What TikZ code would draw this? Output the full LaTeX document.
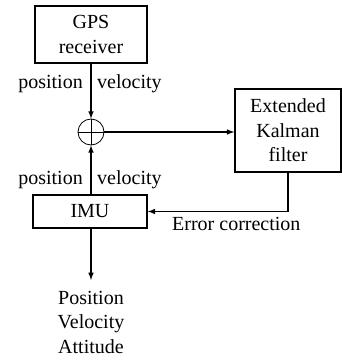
\documentclass[tikz,border=0pt]{standalone}
\usepackage{fontspec}
\setmainfont{Liberation Serif}
\begin{document}
\begin{tikzpicture}[>=latex,x=1pt,y=-1pt,font=\fontsize{20}{24.5}\selectfont,
    blk/.style={draw,line width=1.5pt,align=center,inner sep=0pt},
    lbl/.style={inner sep=0pt},
    sig/.style={->,line width=1.5pt}]
\useasboundingbox (0,0) rectangle (342,361);
\node[blk,minimum width=112,minimum height=57](gps)at(91,34.5){GPS\\receiver};
\node[draw,circle,line width=.8pt,minimum size=26,inner sep=0pt](sum)at(91,132){};
\draw[line width=.8pt](sum.north)--(sum.south) (sum.west)--(sum.east);
\node[blk,minimum width=106,minimum height=83](ekf)at(288,130.5){Extended\\Kalman\\filter};
\node[blk,minimum width=114,minimum height=33](imu)at(90,211.5){IMU};
\node[align=center,anchor=north,inner sep=0pt](out)at(91,291){Position\\Velocity\\Attitude};
\coordinate(tip)at(91,280);
\draw[sig](gps)--(sum);
\draw[sig](imu.north-|sum)--(sum);
\draw[sig](sum)--(sum-|ekf.west);
\draw[sig](ekf.south)|-(imu.east);
\draw[sig](imu.south-|sum)--(tip);
\node[lbl,anchor=base east](p1)at(83,88){position};
\node[lbl,anchor=base west](v1)at(97,88){velocity};
\node[lbl,anchor=base east](p2)at(83,184){position};
\node[lbl,anchor=base west](v2)at(97,184){velocity};
\node[lbl,anchor=base west](ec)at(172,230){Error correction};
\end{tikzpicture}
\end{document}
